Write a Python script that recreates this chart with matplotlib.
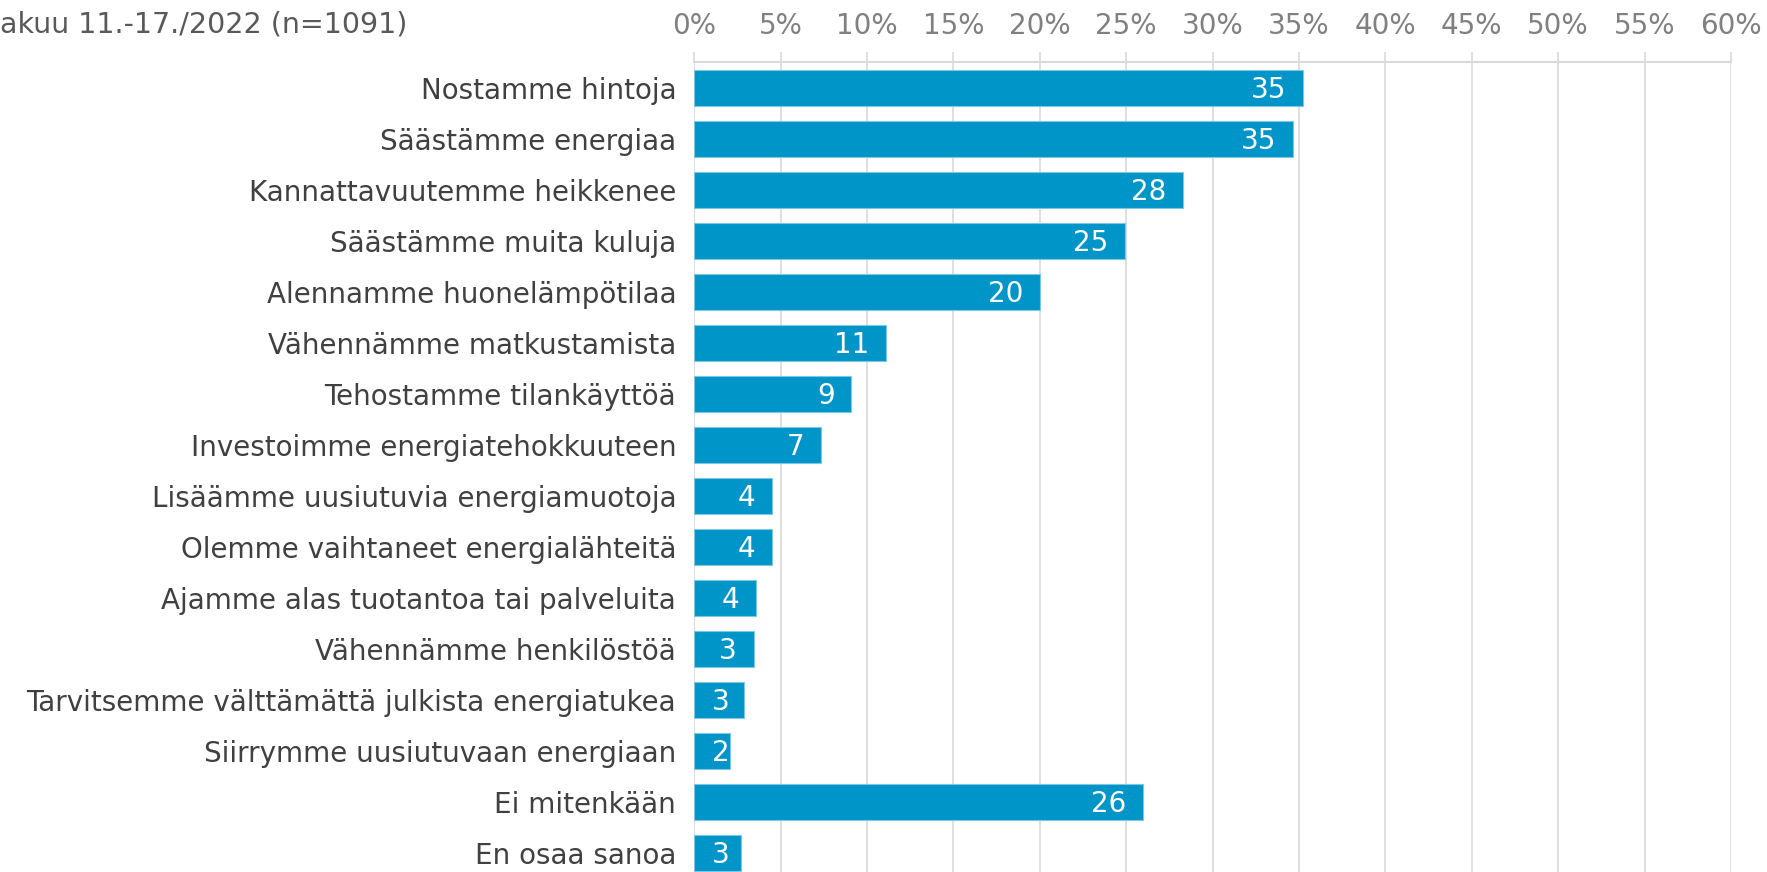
import matplotlib
matplotlib.use("Agg")
import matplotlib.pyplot as plt
from matplotlib.ticker import FuncFormatter

# data (share of respondents, %)
categories = [
    "Nostamme hintoja",
    "Säästämme energiaa",
    "Kannattavuutemme heikkenee",
    "Säästämme muita kuluja",
    "Alennamme huonelämpötilaa",
    "Vähennämme matkustamista",
    "Tehostamme tilankäyttöä",
    "Investoimme energiatehokkuuteen",
    "Lisäämme uusiutuvia energiamuotoja",
    "Olemme vaihtaneet energialähteitä",
    "Ajamme alas tuotantoa tai palveluita",
    "Vähennämme henkilöstöä",
    "Tarvitsemme välttämättä julkista energiatukea",
    "Siirrymme uusiutuvaan energiaan",
    "Ei mitenkään",
    "En osaa sanoa",
]
values = [35.25, 34.67, 28.30, 24.94, 20.03, 11.07, 9.10, 7.36,
          4.49, 4.49, 3.56, 3.44, 2.87, 2.06, 25.97, 2.73]
x_ticks = list(range(0, 61, 5))
subtitle = "akuu 11.-17./2022 (n=1091)"

bar_color = "#0095c8"
grid_color = "#d9d9d9"
fs = 20

fig = plt.figure(figsize=(17.67, 8.72), dpi=100)
ax = fig.add_axes([0.3929, 0.0, 0.9796 - 0.3929, 1 - 62 / 872])

y = list(range(len(categories)))
ax.barh(y, values, height=0.71, color=bar_color, edgecolor="#7cc8e4",
        linewidth=0.8, zorder=3)

labels = []
for yi, v in zip(y, values):
    t = ax.annotate(f"{round(v):d}", xy=(v, yi), xytext=(-12, -1.5),
                    textcoords="offset points", ha="right", va="center",
                    color="white", fontsize=fs, zorder=4)
    labels.append((t, yi))

ax.set_xlim(0, 60)
ax.set_ylim(len(categories) - 1 + 0.37, -0.51)
ax.set_yticks(y)
ax.set_yticklabels(categories, fontsize=fs, color="#404040")
ax.tick_params(axis="y", length=0, pad=13)

ax.xaxis.tick_top()
ax.set_xticks(x_ticks)
ax.xaxis.set_major_formatter(FuncFormatter(lambda v, p: f"{v:.0f}%"))
ax.tick_params(axis="x", labelsize=fs, labelcolor="#808080", color=grid_color,
               length=7, width=1.2, pad=9)

ax.grid(axis="x", color=grid_color, linewidth=1.2, zorder=0)
for side in ["left", "right", "bottom"]:
    ax.spines[side].set_visible(False)
ax.spines["top"].set_color(grid_color)
ax.spines["top"].set_linewidth(1.5)

fig.text(0.0, 1 - 25 / 872, subtitle, fontsize=fs + 0.5, color="#595959",
         ha="left", va="center")

# short bars: keep the label from running past the bar start
fig.canvas.draw()
renderer = fig.canvas.get_renderer()
x0 = ax.transData.transform((0, 0))[0]
for t, yi in labels:
    bb = t.get_window_extent(renderer)
    if bb.x0 < x0 + 18:
        t.xy = (0, yi)
        t.set_position((13, -1.5))
        t.set_ha("left")

fig.savefig("out.png", dpi=100)
